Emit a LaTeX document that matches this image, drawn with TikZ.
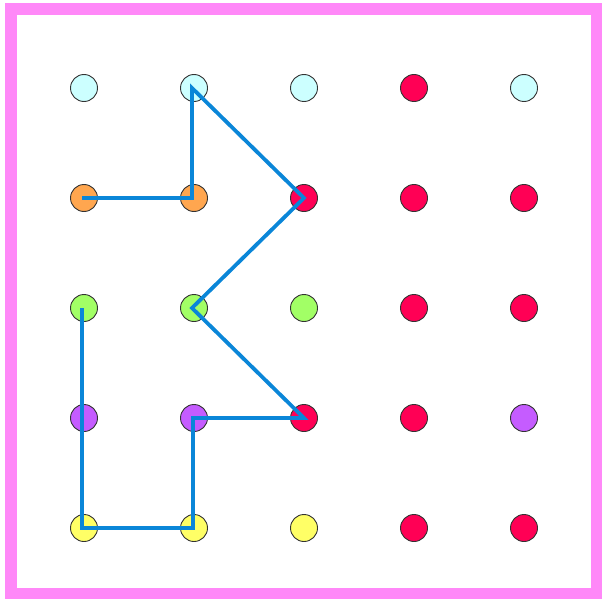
\documentclass[tikz,border=0pt]{standalone}
\definecolor{frame}{HTML}{FF88F8}
\definecolor{dcyan}{HTML}{CCFFFF}
\definecolor{dorange}{HTML}{FFA64F}
\definecolor{dgreen}{HTML}{A2FF66}
\definecolor{dpurple}{HTML}{C55CFF}
\definecolor{dyellow}{HTML}{FFFF66}
\definecolor{dred}{HTML}{FF0055}
\definecolor{pathblue}{HTML}{0A86D8}
\begin{document}
\begin{tikzpicture}[x=1pt,y=-1pt,
  dot/.style={circle,draw=black!80,line width=0.9pt,minimum size=27pt,inner sep=0pt},
  route/.style={draw=pathblue,line width=3.8pt}]
\useasboundingbox (0,0) rectangle (602,599);
\draw[frame,line width=11.5pt] (11,9) rectangle (597,594);
\foreach \r/\clist in {1/{dcyan,dcyan,dcyan,dred,dcyan},2/{dorange,dorange,dred,dred,dred},3/{dgreen,dgreen,dgreen,dred,dred},4/{dpurple,dpurple,dred,dred,dpurple},5/{dyellow,dyellow,dyellow,dred,dred}}{
  \foreach \cc [count=\c] in \clist {
    \node[dot,fill=\cc] (d\c\r) at ({84+110*(\c-1)},{88+110*(\r-1)}) {};
  }
}
\draw[route] ([xshift=-2pt]d12.center) -- ([xshift=-2pt]d22.center) -- ([xshift=-2pt]d21.center) -- (d32.center) -- ([xshift=-2pt]d23.center) -- (d34.center) -- ([xshift=-1pt]d24.center) -- ([xshift=-1pt]d25.center) -- ([xshift=-2pt]d15.center) -- ([xshift=-2pt]d13.center);
\end{tikzpicture}
\end{document}
